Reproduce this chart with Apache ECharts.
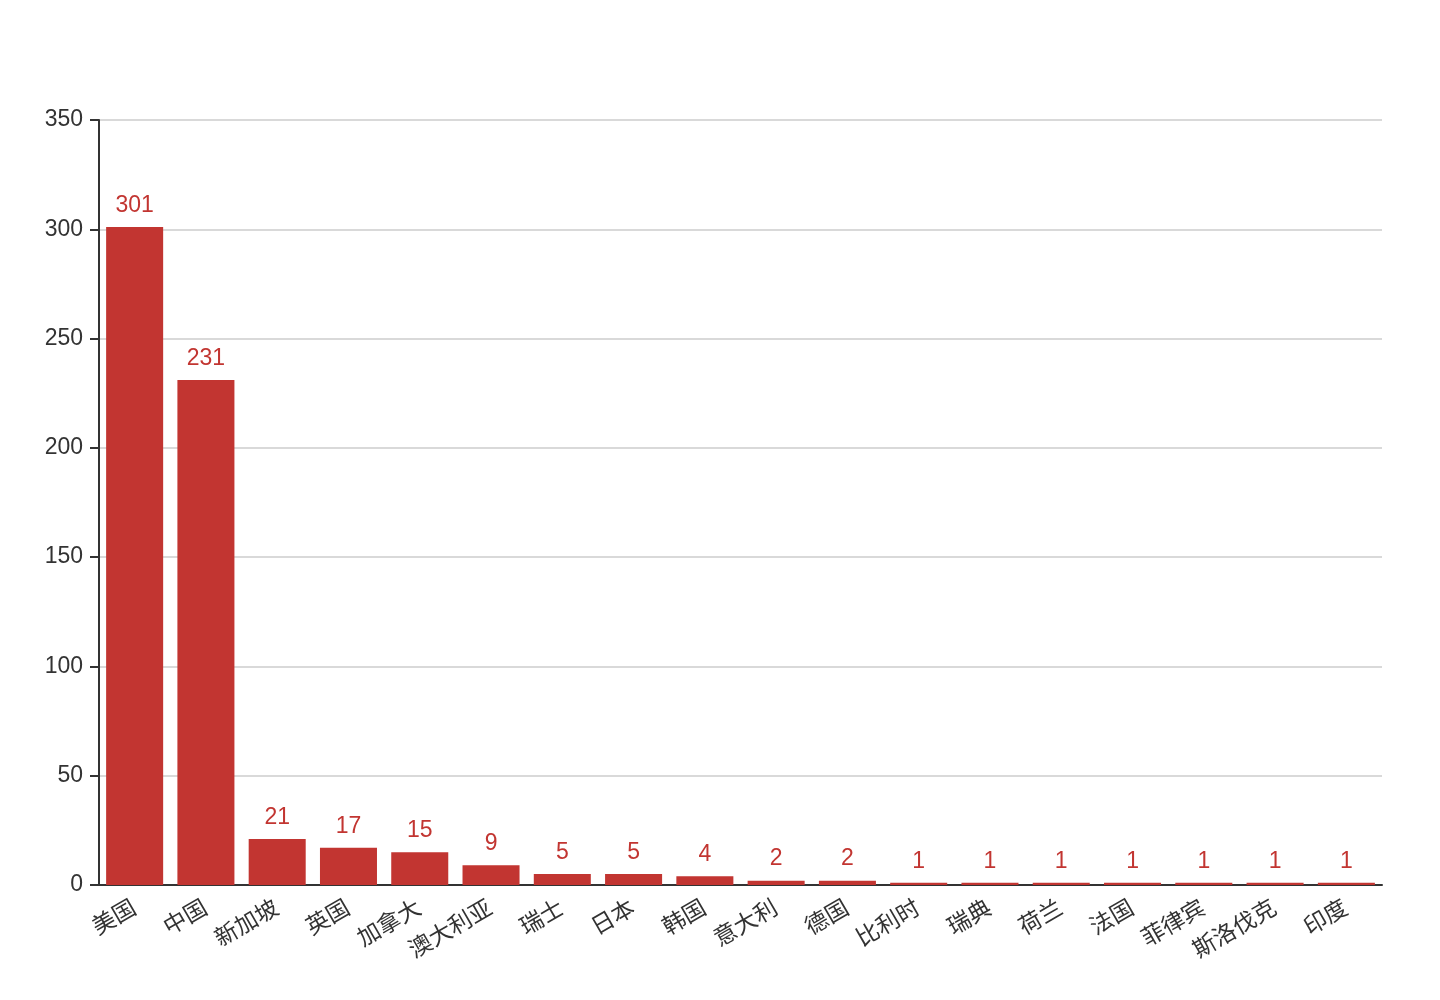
<!DOCTYPE html>
<html><head><meta charset="utf-8">
<script src="https://cdn.jsdelivr.net/npm/echarts@6/dist/echarts.min.js"></script>
<style>html,body{margin:0;padding:0;background:#fff}#c{width:1440px;height:1000px}</style>
</head><body><div id="c"></div>
<script>
const categories = ['美国','中国','新加坡','英国','加拿大','澳大利亚','瑞士','日本','韩国','意大利','德国','比利时','瑞典','荷兰','法国','菲律宾','斯洛伐克','印度'];
const values = [301,231,21,17,15,9,5,5,4,2,2,1,1,1,1,1,1,1];
const yTicks = {min:0, max:350, interval:50};
const font = "'Liberation Sans', 'Noto Sans CJK SC', sans-serif";
const chart = echarts.init(document.getElementById('c'));
chart.setOption({
  animation:false,
  grid:{left:99, right:58, top:120, bottom:115},
  xAxis:{type:'category', data:categories,
    axisLine:{lineStyle:{color:'#333', width:2}},
    axisTick:{show:false},
    axisLabel:{rotate:30, fontSize:23, color:'#333', fontFamily:font, interval:0, margin:22}},
  yAxis:{type:'value', min:yTicks.min, max:yTicks.max, interval:yTicks.interval,
    axisLine:{show:true, lineStyle:{color:'#333', width:2}},
    axisTick:{show:true, length:9, lineStyle:{color:'#333', width:2}},
    splitLine:{lineStyle:{color:'#ccc', width:1.5}},
    axisLabel:{fontSize:23, color:'#333', fontFamily:font, margin:16}},
  series:[{type:'bar', data:values, barCategoryGap:'20%',
    itemStyle:{color:'#c23531'},
    label:{show:true, position:'top', color:'#c23531', fontSize:23, fontFamily:font, distance:10}}]
});
</script></body></html>
